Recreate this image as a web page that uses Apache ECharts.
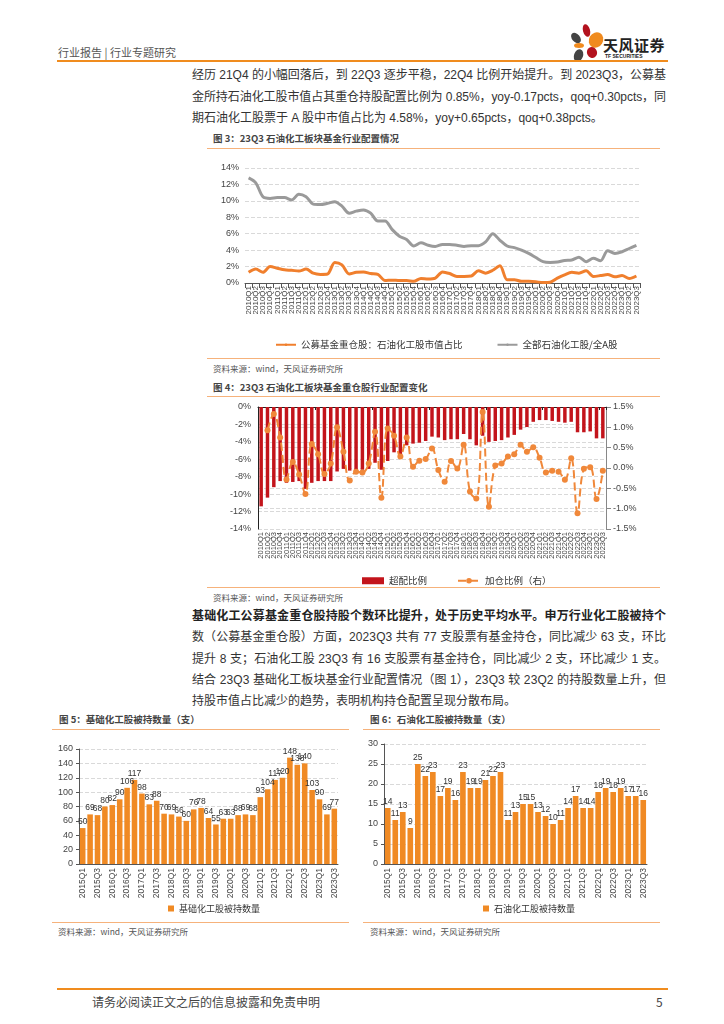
<!DOCTYPE html>
<html><head><meta charset="utf-8">
<script src="https://cdn.jsdelivr.net/npm/echarts@6/dist/echarts.min.js"></script>
<style>
body{margin:0;background:#fff;}
#page{position:relative;width:724px;height:1024px;overflow:hidden;background:#fff;font-family:"Noto Sans CJK SC","Liberation Sans",sans-serif;color:#333;}
.abs{position:absolute;}
.ln{position:absolute;left:192px;width:474px;font-size:12px;line-height:16px;height:16px;white-space:nowrap;color:#333;font-family:"Liberation Sans","Noto Sans CJK SC",sans-serif;}
.ttl{position:absolute;font-size:9.5px;font-weight:bold;color:#444;line-height:12px;white-space:nowrap;}
.src{position:absolute;font-size:8.5px;color:#555;line-height:10px;white-space:nowrap;}
.sep{position:absolute;height:1px;background:#F6B27B;}
.pet{position:absolute;border-radius:50%;}
</style></head>
<body><div id="page">
<!-- header -->
<div class="abs" style="left:58px;top:44px;font-size:11px;color:#555;white-space:nowrap;">行业报告 | 行业专题研究</div>
<div class="pet" style="left:583px;top:24px;width:7px;height:13px;background:#B3121E;transform:rotate(-15deg);"></div>
<div class="pet" style="left:572px;top:32px;width:8px;height:12px;background:#444;transform:rotate(-40deg);"></div>
<div class="pet" style="left:589px;top:32px;width:14px;height:16px;background:#F08A1E;transform:rotate(30deg);"></div>
<div class="pet" style="left:574px;top:43px;width:10px;height:5px;background:#F08A1E;"></div>
<div class="pet" style="left:587px;top:47px;width:10px;height:11px;background:#B3121E;transform:rotate(-30deg);"></div>
<div class="pet" style="left:574px;top:49px;width:9px;height:13px;background:#444;transform:rotate(20deg);"></div>
<div class="abs" style="left:603px;top:34px;font-size:15px;font-weight:bold;color:#222;white-space:nowrap;letter-spacing:0.5px;">天风证券</div>
<div class="abs" style="left:605px;top:53px;font-size:5px;font-weight:bold;color:#222;white-space:nowrap;font-family:'Liberation Sans',sans-serif;">TF SECURITIES</div>
<div class="abs" style="left:57px;top:60px;width:611px;height:2px;background:#F08C1E;"></div>

<!-- paragraph 1 -->
<div class="ln j" style="top:67px;"><span>经历 21Q4 的小幅回落后，到 22Q3 逐步平稳，22Q4 比例开始提升。到 2023Q3，公募基</span></div>
<div class="ln j" style="top:89px;"><span>金所持石油化工股市值占其重仓持股配置比例为 0.85%，yoy-0.17pcts，qoq+0.30pcts，同</span></div>
<div class="ln" style="top:110px;"><span>期石油化工股票于 A 股中市值占比为 4.58%，yoy+0.65pcts，qoq+0.38pcts。</span></div>

<!-- figure 3 -->
<div class="ttl" style="left:213px;top:132px;">图 3：23Q3 石油化工板块基金行业配置情况</div>
<div class="sep" style="left:207px;top:148px;width:453px;"></div>
<div id="c3" class="abs" style="left:200px;top:155px;width:470px;height:197px;"></div>
<div class="sep" style="left:207px;top:358px;width:453px;"></div>
<div class="src" style="left:213px;top:363px;">资料来源：wind，天风证券研究所</div>

<!-- figure 4 -->
<div class="ttl" style="left:213px;top:381px;">图 4：23Q3 石油化工板块基金重仓股行业配置变化</div>
<div class="sep" style="left:207px;top:396px;width:453px;"></div>
<div id="c4" class="abs" style="left:200px;top:398px;width:470px;height:188px;"></div>
<div class="sep" style="left:207px;top:587px;width:453px;"></div>
<div class="src" style="left:213px;top:592px;">资料来源：wind，天风证券研究所</div>

<!-- paragraph 2 -->
<div class="ln j" style="top:608px;"><span><b style="color:#222;">基础化工公募基金重仓股持股个数环比提升，处于历史平均水平。申万行业化工股被持个</b></span></div>
<div class="ln j" style="top:629px;"><span>数（公募基金重仓股）方面，2023Q3 共有 77 支股票有基金持仓，同比减少 63 支，环比</span></div>
<div class="ln j" style="top:651px;"><span>提升 8 支；石油化工股 23Q3 有 16 支股票有基金持仓，同比减少 2 支，环比减少 1 支。</span></div>
<div class="ln j" style="top:672px;"><span>结合 23Q3 基础化工板块基金行业配置情况（图 1），23Q3 较 23Q2 的持股数量上升，但</span></div>
<div class="ln" style="top:693px;"><span>持股市值占比减少的趋势，表明机构持仓配置呈现分散布局。</span></div>

<!-- figure 5 / 6 -->
<div class="ttl" style="left:59px;top:713px;">图 5：基础化工股被持数量（支）</div>
<div class="sep" style="left:52px;top:729px;width:297px;"></div>
<div id="c5" class="abs" style="left:30px;top:732px;width:320px;height:182px;"></div>
<div class="sep" style="left:52px;top:922px;width:297px;"></div>
<div class="src" style="left:58px;top:926px;">资料来源：wind，天风证券研究所</div>

<div class="ttl" style="left:370px;top:713px;">图 6：石油化工股被持数量（支）</div>
<div class="sep" style="left:363px;top:729px;width:297px;"></div>
<div id="c6" class="abs" style="left:360px;top:732px;width:320px;height:182px;"></div>
<div class="sep" style="left:363px;top:922px;width:297px;"></div>
<div class="src" style="left:370px;top:926px;">资料来源：wind，天风证券研究所</div>

<!-- footer -->
<div class="abs" style="left:57px;top:988px;width:611px;height:2px;background:#F08C1E;"></div>
<div class="abs" style="left:92px;top:993px;font-size:12px;color:#444;white-space:nowrap;">请务必阅读正文之后的信息披露和免责申明</div>
<div class="abs" style="left:656px;top:993px;font-size:12px;color:#444;">5</div>
</div>

<script>
// ---------- data ----------
const quarters55 = ['2010Q1','2010Q2','2010Q3','2010Q4','2011Q1','2011Q2','2011Q3','2011Q4','2012Q1','2012Q2','2012Q3','2012Q4','2013Q1','2013Q2','2013Q3','2013Q4','2014Q1','2014Q2','2014Q3','2014Q4','2015Q1','2015Q2','2015Q3','2015Q4','2016Q1','2016Q2','2016Q3','2016Q4','2017Q1','2017Q2','2017Q3','2017Q4','2018Q1','2018Q2','2018Q3','2018Q4','2019Q1','2019Q2','2019Q3','2019Q4','2020Q1','2020Q2','2020Q3','2020Q4','2021Q1','2021Q2','2021Q3','2021Q4','2022Q1','2022Q2','2022Q3','2022Q4','2023Q1','2023Q2','2023Q3'];
// Fig 3 (%)
const fundHeavyShare = [1.3,1.7,1.3,2.0,1.8,1.6,1.55,1.45,1.7,1.2,1.05,1.1,2.5,2.2,1.1,1.3,1.35,1.15,1.05,0.3,0.35,0.3,0.3,0.2,0.55,0.5,0.6,1.35,1.15,0.8,0.8,0.85,1.5,1.2,1.55,2.1,0.4,0.4,0.2,0.2,0.15,0.05,0.1,0.6,1.0,1.3,1.2,1.5,0.8,0.9,1.02,0.75,0.9,0.55,0.85];
const allPetroShare = [12.8,12.2,10.5,10.3,10.4,10.4,10.1,10.8,10.5,9.6,9.55,9.7,9.9,9.35,8.5,8.75,8.9,8.5,7.55,7.55,6.5,5.7,5.3,4.5,4.9,4.6,4.45,4.7,4.7,4.6,4.45,4.55,4.55,5.0,6.0,5.2,4.5,4.3,4.0,3.6,3.1,2.6,2.5,2.55,2.75,2.8,3.15,2.6,3.0,2.7,3.93,3.6,3.8,4.2,4.58];
// Fig 4 (%)
const overweight = [-11.4,-10.4,-9.2,-8.5,-8.7,-8.6,-8.5,-9.4,-8.7,-8.5,-8.5,-8.5,-7.4,-7.1,-7.3,-7.4,-7.2,-7.1,-6.4,-7.2,-6.2,-5.2,-5.6,-4.4,-4.2,-4.1,-3.9,-3.4,-3.5,-3.8,-3.7,-3.7,-3.1,-3.7,-4.4,-3.3,-4.0,-3.9,-3.8,-3.5,-3.2,-2.6,-2.3,-1.7,-1.5,-1.5,-1.6,-1.7,-1.8,-1.7,-2.9,-2.9,-2.8,-3.6,-3.6];
const addPosition = [null,0.93,1.33,0.75,-0.28,0.15,-0.16,-0.64,0.59,0.34,-0.15,0.11,1.0,0.40,-0.31,-0.09,-0.11,0.11,0.89,-0.73,0.97,0.79,0.28,0.75,0.03,0.18,0.22,0.48,-0.05,-0.34,0.17,-0.01,0.57,-0.58,-0.75,1.38,-0.95,0.06,0.11,0.28,0.34,0.57,0.40,0.51,0.25,-0.11,-0.07,-0.09,-0.29,0.24,-1.11,-0.02,0.02,-0.76,-0.07];
// Fig 5 / 6
const quarters35 = ['2015Q1','2015Q2','2015Q3','2015Q4','2016Q1','2016Q2','2016Q3','2016Q4','2017Q1','2017Q2','2017Q3','2017Q4','2018Q1','2018Q2','2018Q3','2018Q4','2019Q1','2019Q2','2019Q3','2019Q4','2020Q1','2020Q2','2020Q3','2020Q4','2021Q1','2021Q2','2021Q3','2021Q4','2022Q1','2022Q2','2022Q3','2022Q4','2023Q1','2023Q2','2023Q3'];
const basicChemCount = [50,69,68,80,82,90,106,117,98,83,88,70,69,66,60,76,78,64,55,63,63,68,69,68,93,104,117,120,148,138,140,103,90,69,77];
const petroChemCount = [14,11,13,9,25,22,23,17,19,16,23,19,19,21,22,23,11,13,15,15,13,12,10,11,14,17,14,14,18,19,18,19,17,17,16];

// ---------- justify text lines to the column width ----------
document.querySelectorAll('.ln').forEach(el=>{
  const sp = el.firstElementChild;
  const w = sp.getBoundingClientRect().width;
  const n = sp.textContent.length;
  if (el.classList.contains('j')) {
    sp.style.letterSpacing = ((474 - w) / (n - 0.5)) + 'px';
  } else if (w > 474) {
    sp.style.letterSpacing = ((474 - w) / n) + 'px';
  }
});

// ---------- styles ----------
const FONT = '"Liberation Sans","Noto Sans CJK SC",sans-serif';
const CJK = '"Noto Sans CJK SC","Liberation Sans",sans-serif';
const ORANGE = '#F08A24';
const GRID_LINE = {lineStyle:{type:'dashed',color:'#d9d9d9',width:1}};

// ---------- Fig 3 ----------
echarts.init(document.getElementById('c3')).setOption({
  animation:false,
  textStyle:{fontFamily:FONT},
  grid:{left:45,right:30,top:13,bottom:69},
  legend:{left:70,top:180,itemGap:34,itemWidth:20,itemHeight:3,
    textStyle:{fontSize:9.5,color:'#333',fontFamily:CJK},
    data:['公募基金重仓股：石油化工股市值占比','全部石油化工股/全A股']},
  xAxis:{type:'category',data:quarters55,boundaryGap:true,
    axisLine:{lineStyle:{color:'#555'}},axisTick:{show:true,lineStyle:{color:'#555'}},
    axisLabel:{rotate:90,interval:0,fontSize:8,color:'#444',margin:3}},
  yAxis:{type:'value',min:0,max:14,interval:2,
    axisLabel:{formatter:'{value}%',fontSize:9,color:'#444',margin:6},
    axisLine:{show:false},axisTick:{show:false},splitLine:GRID_LINE},
  series:[
    {name:'公募基金重仓股：石油化工股市值占比',type:'line',data:fundHeavyShare,smooth:0.3,symbol:'none',
      lineStyle:{width:3,color:'#F07F2D'},itemStyle:{color:'#F07F2D'}},
    {name:'全部石油化工股/全A股',type:'line',data:allPetroShare,smooth:0.3,symbol:'none',
      lineStyle:{width:3,color:'#9A9A9A'},itemStyle:{color:'#9A9A9A'}}
  ]
});

// ---------- Fig 4 ----------
echarts.init(document.getElementById('c4')).setOption({
  animation:false,
  textStyle:{fontFamily:FONT},
  grid:{left:58,right:64,top:9,bottom:57},
  legend:{left:157,top:173,itemGap:30,itemWidth:22,itemHeight:7,
    textStyle:{fontSize:9.5,color:'#333',fontFamily:CJK},
    data:[{name:'超配比例',icon:'rect'},{name:'加仓比例（右）'}]},
  xAxis:[
    {type:'category',data:quarters55,position:'bottom',
      axisLine:{show:false,onZero:false},axisTick:{show:false},
      axisLabel:{rotate:90,interval:0,fontSize:7.5,color:'#444',margin:3}},
    {type:'category',data:quarters55,position:'top',
      axisLine:{show:true,lineStyle:{color:'#222'}},axisTick:{show:true,inside:true,length:3,lineStyle:{color:'#222'}},
      axisLabel:{show:false}}
  ],
  yAxis:[
    {type:'value',min:-14,max:0,interval:2,
      axisLabel:{formatter:'{value}%',fontSize:9,color:'#444',margin:7},
      axisLine:{show:true,lineStyle:{color:'#222'}},axisTick:{show:false},splitLine:GRID_LINE},
    {type:'value',min:-1.5,max:1.5,interval:0.5,position:'right',
      axisLabel:{formatter:v=>v.toFixed(1)+'%',fontSize:9,color:'#444',margin:7},
      axisLine:{show:true,lineStyle:{color:'#888'}},axisTick:{show:true,lineStyle:{color:'#888'}},splitLine:GRID_LINE}
  ],
  series:[
    {name:'超配比例',type:'bar',data:overweight,xAxisIndex:0,yAxisIndex:0,barWidth:'55%',
      itemStyle:{color:'#C3141B'}},
    {name:'加仓比例（右）',type:'line',data:addPosition,xAxisIndex:0,yAxisIndex:1,smooth:0.4,
      symbol:'circle',symbolSize:6,connectNulls:false,
      lineStyle:{width:2,type:'dashed',color:'#F0883A'},itemStyle:{color:'#F0883A'}}
  ]
});

// ---------- Fig 5 / 6 ----------
function countChart(id, cats, vals, name, max, interval, grid, legendLeft){
  echarts.init(document.getElementById(id)).setOption({
    animation:false,
    textStyle:{fontFamily:FONT},
    grid:grid,
    legend:{left:legendLeft,top:167,itemWidth:6,itemHeight:6,icon:'rect',
      textStyle:{fontSize:9,color:'#333',fontFamily:CJK},data:[name]},
    xAxis:{type:'category',data:cats,
      axisLine:{lineStyle:{color:'#555'}},axisTick:{show:false},
      axisLabel:{rotate:90,interval:1,fontSize:8.5,color:'#444',margin:4}},
    yAxis:{type:'value',min:0,max:max,interval:interval,
      axisLabel:{fontSize:9,color:'#444',margin:6},
      axisLine:{show:true,lineStyle:{color:'#555'}},axisTick:{show:true,length:3,lineStyle:{color:'#555'}},
      splitLine:GRID_LINE},
    series:[{name:name,type:'bar',data:vals,barCategoryGap:'25%',itemStyle:{color:ORANGE},
      label:{show:true,position:'top',fontSize:8.5,color:'#333',distance:2}}]
  });
}
countChart('c5',quarters35,basicChemCount,'基础化工股被持数量',160,20,{left:49,right:12,top:17,bottom:50},133);
countChart('c6',quarters35,petroChemCount,'石油化工股被持数量',30,5,{left:24,right:33,top:12,bottom:50},118);
</script>
</body></html>
